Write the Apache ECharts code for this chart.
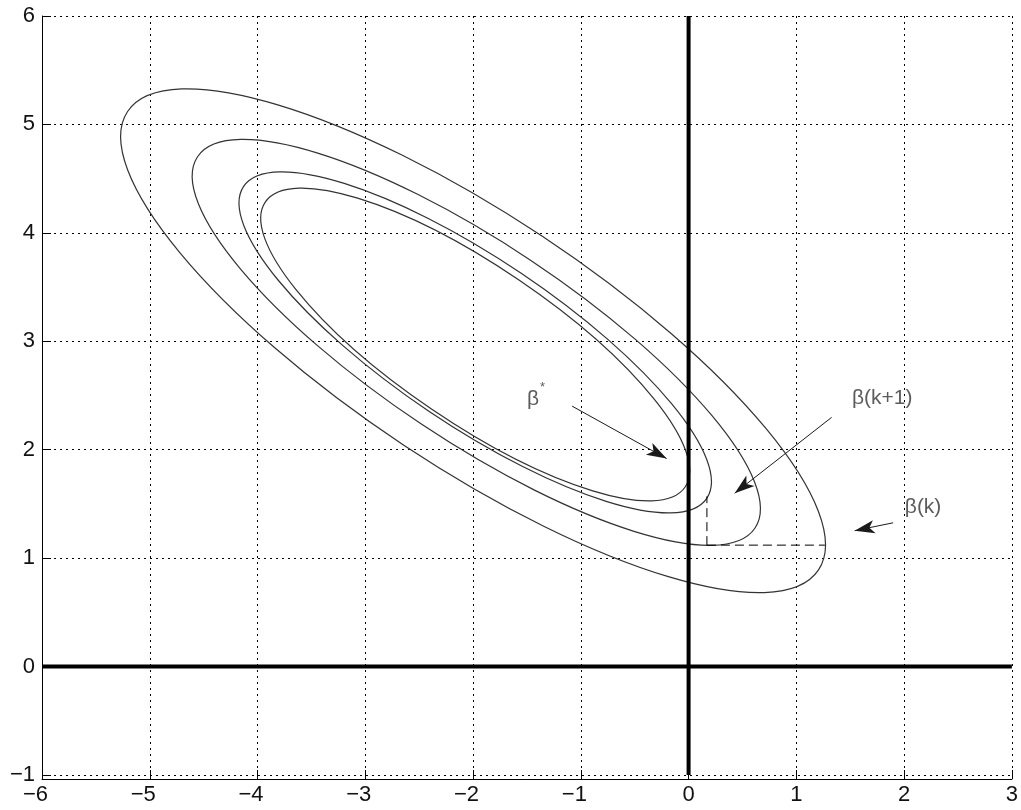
<!DOCTYPE html>
<html>
<head>
<meta charset="utf-8">
<script src="https://cdn.jsdelivr.net/npm/echarts@6/dist/echarts.min.js"></script>
<style>
html,body{margin:0;padding:0;background:#fff;}
#c{width:1021px;height:810px;}
</style>
</head>
<body>
<div id="c"></div>
<script>
// ---- axis ranges / ticks ----
const xRange = [-6, 3];
const yRange = [-1, 6];
const tickStep = 1;

// ---- contour ellipses: centre, semi-axes, tilt ----
const ellipseCenterX  = [-2.00, -1.97, -1.98, -1.98];
const ellipseCenterY  = [3.005, 2.99, 2.99, 2.97];
const ellipseSemiMajor = [3.84, 3.102, 2.586, 2.35];
const ellipseSemiMinor = [1.158, 0.910, 0.767, 0.72];
const ellipseTiltDeg   = [-33.4, -33.5, -33.8, -34.0];

// ---- bold coordinate axes through the origin ----
const zeroVertical = [[0,-1],[0,6]];
const zeroHorizontal = [[-6,0],[3,0]];

// ---- coordinate-descent step (dashed) ----
const stepHorizontal = [[0.17,1.12],[1.265,1.12]];
const stepVertical = [[0.17,1.12],[0.17,1.57]];

// ---- annotation arrows: [from, to] ----
const arrowStar = [[-1.081,2.402],[-0.204,1.918]];
const arrowNext = [[1.327,2.298],[0.428,1.599]];
const arrowK = [[1.898,1.326],[1.541,1.253]];

// ---- annotation texts ----
const labelNames = ['β', '*', 'β(k+1)', 'β(k)'];
const labelPos = [[-1.443,2.465],[-1.356,2.575],[1.796,2.476],[2.176,1.47]];
const labelSizes = [21, 13, 21, 21];

const FONT = '"Liberation Sans", Arial, Helvetica, sans-serif';
const MINUS = '\u2212';

const ellipseRows = ellipseCenterX.map(function(cx, i){
  return [cx, ellipseCenterY[i], ellipseSemiMajor[i], ellipseSemiMinor[i], ellipseTiltDeg[i]];
});

function plainLine(data, width, type){
  return {type:'line', data:data, showSymbol:false, symbol:'none',
    lineStyle:{color:'#000', width:width, type:type||'solid'}, z:4, silent:true};
}

const chart = echarts.init(document.getElementById('c'), null, {renderer:'canvas'});
const option = {
  animation:false,
  backgroundColor:'#ffffff',
  grid:{left:42, right:7, top:16, bottom:35, containLabel:false},
  xAxis:{
    type:'value', min:xRange[0], max:xRange[1], interval:tickStep, offset:4,
    axisLine:{show:true, onZero:false, lineStyle:{color:'#000', width:1}},
    axisTick:{show:true, inside:true, length:9, lineStyle:{color:'#000', width:1}},
    splitLine:{show:true, lineStyle:{color:'#000', width:1, type:[2,4]}},
    axisLabel:{
      margin:5, color:'#111', fontSize:22, fontFamily:FONT,
      formatter:function(v){ return v<0 ? '{m|'+MINUS+'}{d|'+(-v)+'}{p| }' : '{d|'+v+'}'; },
      rich:{
        m:{fontSize:22, fontFamily:FONT, color:'#111'},
        d:{fontSize:22, fontFamily:FONT, color:'#111'},
        p:{fontSize:22, fontFamily:FONT, width:13}
      }
    }
  },
  yAxis:{
    type:'value', min:yRange[0], max:yRange[1], interval:tickStep,
    axisLine:{show:true, onZero:false, lineStyle:{color:'#000', width:1}},
    axisTick:{show:true, inside:true, length:9, lineStyle:{color:'#000', width:1}},
    splitLine:{show:true, lineStyle:{color:'#000', width:1, type:[2,4]}},
    axisLabel:{
      margin:7, color:'#111', fontSize:22, fontFamily:FONT,
      formatter:function(v){ return v<0 ? MINUS+(-v) : ''+v; }
    }
  },
  series:[
    {
      type:'custom', coordinateSystem:'cartesian2d', silent:true, z:3,
      data:ellipseRows,
      encode:{x:0, y:1},
      renderItem:function(params, api){
        const c = api.coord([api.value(0), api.value(1)]);
        const a = api.value(2), b = api.value(3), th = api.value(4)*Math.PI/180;
        const s = api.size([1,1]);
        const mx = a*Math.cos(th)*s[0], my = -a*Math.sin(th)*s[1];
        const rx = Math.sqrt(mx*mx+my*my);
        const ry = b*Math.sqrt(Math.pow(Math.sin(th)*s[0],2)+Math.pow(Math.cos(th)*s[1],2));
        const rot = Math.atan2(my, mx);
        return {
          type:'ellipse', x:c[0], y:c[1], rotation:-rot,
          shape:{cx:0, cy:0, rx:rx, ry:ry},
          style:{fill:null, stroke:'#333', lineWidth:1.2}
        };
      }
    },
    plainLine(zeroVertical, 4),
    plainLine(zeroHorizontal, 4),
    plainLine(stepHorizontal, 1, [9,5]),
    plainLine(stepVertical, 1, [9,5]),
    {
      type:'lines', coordinateSystem:'cartesian2d', polyline:false, silent:true,
      symbol:['none','arrow'], symbolSize:[0,[10,20]],
      lineStyle:{color:'#1a1a1a', width:1, opacity:1, curveness:0},
      data:[arrowStar, arrowNext, arrowK].map(function(a){ return {coords:a}; }),
      z:5
    },
    {
      type:'scatter', silent:true, symbol:'circle', symbolSize:1,
      itemStyle:{color:'rgba(0,0,0,0)'},
      label:{show:true, position:'inside', formatter:'{b}', color:'#333', fontFamily:FONT, fontSize:21},
      data:labelNames.map(function(n,i){
        return {name:n, value:labelPos[i], label:{fontSize:labelSizes[i]}};
      }),
      z:6
    }
  ]
};
chart.setOption(option);
</script>
</body>
</html>
